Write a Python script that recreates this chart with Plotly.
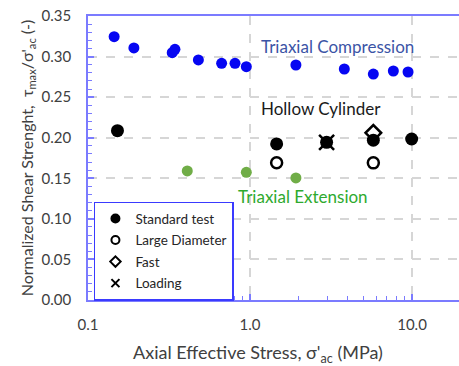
import plotly.graph_objects as go

# Triaxial compression (blue)
tc_x = [0.145, 0.192, 0.331, 0.344, 0.48, 0.668, 0.808, 0.949, 1.92, 3.82, 5.77, 7.67, 9.45]
tc_y = [0.3245, 0.3106, 0.3048, 0.309, 0.2958, 0.2917, 0.2917, 0.2875, 0.2896, 0.2847, 0.2785, 0.2822, 0.281]

# Triaxial extension (green)
te_x = [0.41, 0.949, 1.92]
te_y = [0.159, 0.1574, 0.1504]

# Hollow cylinder
std_x = [0.152, 1.46, 2.97, 5.77, 9.95]
std_y = [0.2087, 0.1923, 0.1943, 0.197, 0.1984]
large_x = [1.46, 5.77]
large_y = [0.1692, 0.169]
fast_x = [5.77]
fast_y = [0.206]
load_x = [2.97]
load_y = [0.1943]

legend_names = ["Standard test", "Large Diameter", "Fast", "Loading"]
legend_symbols = ["circle", "circle-open", "diamond-open", "x-thin-open"]

x_ticks = [0.1, 1.0, 10.0]
x_labels = ["0.1", "1.0", "10.0"]
x_minor = [0.2, 0.3, 0.4, 0.5, 0.6, 0.7, 0.8, 0.9, 2, 3, 4, 5, 6, 7, 8, 9]
y_ticks = [0.0, 0.05, 0.10, 0.15, 0.20, 0.25, 0.30, 0.35]

FONT = "Lato"
AXC = "#7b7bff"
GRID = "#d6d6d6"

fig = go.Figure()
fig.add_trace(go.Scatter(x=tc_x, y=tc_y, mode="markers", showlegend=False,
                         marker=dict(color="#0606f2", size=11)))
fig.add_trace(go.Scatter(x=te_x, y=te_y, mode="markers", showlegend=False,
                         marker=dict(color="#70ad47", size=11)))
fig.add_trace(go.Scatter(x=fast_x, y=fast_y, mode="markers", showlegend=False,
                         marker=dict(symbol="diamond-open", color="black", size=12,
                                     line=dict(width=2.5, color="black"))))
fig.add_trace(go.Scatter(x=std_x, y=std_y, mode="markers", showlegend=False,
                         marker=dict(color="black", size=13)))
fig.add_trace(go.Scatter(x=large_x, y=large_y, mode="markers", showlegend=False,
                         marker=dict(symbol="circle-open", color="black", size=11,
                                     line=dict(width=2.5, color="black"))))
fig.add_trace(go.Scatter(x=load_x, y=load_y, mode="markers", showlegend=False,
                         marker=dict(symbol="x-thin-open", color="black", size=15,
                                     line=dict(width=2.5, color="black"))))

# legend entries (small symbols like the reference)
for i, (nm, sym) in enumerate(zip(legend_names, legend_symbols)):
    fig.add_trace(go.Scatter(x=[None], y=[None], mode="markers", name=nm,
                             legendgroup=nm, legendrank=i + 1,
                             marker=dict(symbol=sym, color="black", size=8,
                                         line=dict(width=2, color="black"))))

fig.update_layout(
    width=459, height=366,
    margin=dict(l=88, r=0, t=16, b=66),
    paper_bgcolor="white", plot_bgcolor="white",
    font=dict(family=FONT, color="#404040", size=15),
    legend=dict(x=0.016, y=0.346, xanchor="left", yanchor="top",
                bordercolor="#3a3aff", borderwidth=1.5, bgcolor="white",
                font=dict(size=13.5, color="#262626"),
                itemwidth=30, tracegroupgap=1,
                itemsizing="trace"),
    annotations=[
        dict(text="Triaxial Compression", x=0.462, y=0.891, xref="paper", yref="paper",
             xanchor="left", yanchor="middle", showarrow=False,
             font=dict(size=17, color="#3b54a6")),
        dict(text="Hollow Cylinder", x=0.462, y=0.673, xref="paper", yref="paper",
             xanchor="left", yanchor="middle", showarrow=False,
             font=dict(size=17, color="#1a1a1a")),
        dict(text="Triaxial Extension", x=0.400, y=0.363, xref="paper", yref="paper",
             xanchor="left", yanchor="middle", showarrow=False,
             font=dict(size=17, color="#2eaa2e")),
        dict(text="Axial Effective Stress, σ'<sub>ac</sub> (MPa)", x=0.458, y=-0.19,
             xref="paper", yref="paper", xanchor="center", yanchor="middle",
             showarrow=False, font=dict(size=18, color="#404040")),
    ],
)

fig.update_xaxes(
    type="log", range=[-1, 1.29], automargin=False,
    tickvals=x_ticks, ticktext=x_labels,
    ticks="inside", ticklen=6, tickcolor=AXC, tickwidth=1.5,
    minor=dict(tickvals=x_minor, ticks="inside", ticklen=4, tickcolor=AXC, tickwidth=1.2, showgrid=False),
    showline=True, linecolor=AXC, linewidth=1.5, mirror=True,
    showgrid=True, gridcolor=GRID, griddash="dash", gridwidth=1.5,
    zeroline=False, ticklabelstandoff=10,
)
fig.update_yaxes(
    range=[0, 0.35], automargin=False,
    tickvals=y_ticks, tickformat=".2f",
    ticks="inside", ticklen=6, tickcolor=AXC, tickwidth=1.5,
    minor=dict(dtick=0.01, ticks="inside", ticklen=4, tickcolor=AXC, tickwidth=1.2, showgrid=False),
    showline=True, linecolor=AXC, linewidth=1.5,
    showgrid=True, gridcolor=GRID, griddash="dash", gridwidth=1.5,
    zeroline=False, ticklabelstandoff=12,
    title=dict(text="Normalized Shear Strenght,  τ<sub>max</sub>/σ'<sub>ac</sub> (-)", font=dict(size=16, color="#404040"), standoff=4),
)

fig.write_html("out.html", config={"displayModeBar": False},
               post_script="document.body.style.margin='0';document.body.style.overflow='hidden';")
